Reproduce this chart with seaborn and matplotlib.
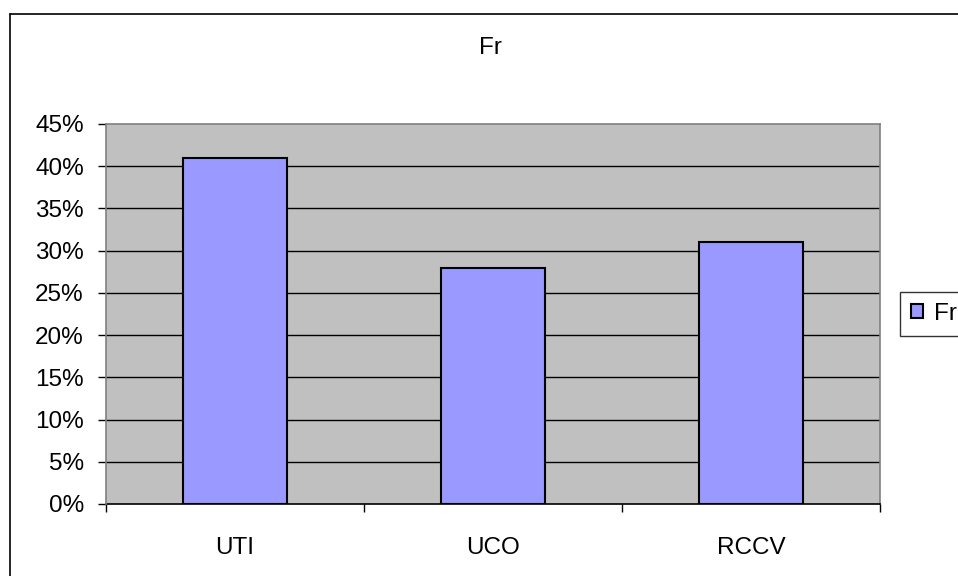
import matplotlib
matplotlib.use("Agg")
import matplotlib.pyplot as plt
import seaborn as sns
import pandas as pd
from matplotlib.lines import Line2D
from matplotlib.ticker import PercentFormatter

categories = ["UTI", "UCO", "RCCV"]
values = [0.41, 0.28, 0.31]
series_name = "Fr"
y_ticks = [0, 0.05, 0.10, 0.15, 0.20, 0.25, 0.30, 0.35, 0.40, 0.45]

sns.set_theme(style="white")
plt.rcParams['font.family'] = ['Liberation Sans', 'DejaVu Sans']
plt.rcParams['text.color'] = 'black'
plt.rcParams['xtick.color'] = 'black'
plt.rcParams['ytick.color'] = 'black'
plt.rcParams['xtick.labelcolor'] = 'black'
plt.rcParams['ytick.labelcolor'] = 'black'

W, H = 958, 576
fig = plt.figure(figsize=(W / 100, H / 100), dpi=100)
fig.patch.set_facecolor("white")

L, R, T, B = 106, 880, 124, 504
ax = fig.add_axes([L / W, 1 - B / H, (R - L) / W, (B - T) / H])
ax.set_facecolor("#C0C0C0")

df = pd.DataFrame({"cat": categories, "val": values})
sns.barplot(data=df, x="cat", y="val", color="#9999FF", edgecolor="black",
            linewidth=1.5, width=0.40, saturation=1, ax=ax, zorder=3)

ax.set_ylim(0, 0.45)
ax.set_xlim(-0.5, len(categories) - 0.5)
ax.set_yticks(y_ticks)
ax.yaxis.set_major_formatter(PercentFormatter(1.0, decimals=0))
for y in y_ticks[1:-1]:
    ax.axhline(y, color="black", linewidth=1, zorder=1)

ax.set_xlabel("")
ax.set_ylabel("")
ax.tick_params(axis="y", which="major", length=6, width=1, color="black",
               direction="out", pad=10, labelsize=17.5, left=True, labelcolor="black")
ax.tick_params(axis="x", which="major", length=0, pad=24, labelsize=17.5, labelcolor="black")
ax.set_xticks([i - 0.5 for i in range(len(categories) + 1)], minor=True)
ax.tick_params(axis="x", which="minor", length=6, width=1, color="black",
               direction="out", bottom=True)

for side in ["left", "right", "top"]:
    ax.spines[side].set_visible(True)
    ax.spines[side].set_color("#808080")
    ax.spines[side].set_linewidth(1.2)
ax.spines["bottom"].set_color("black")
ax.spines["bottom"].set_linewidth(1.2)
ax.spines["left"].set_zorder(4)

fig.text(490 / W, 1 - 48 / H, "Fr", ha="center", va="center", fontsize=17.5, color="black")

# outer chart frame
fig.add_artist(Line2D([10 / W, 10 / W], [0, 1 - 14 / H], transform=fig.transFigure,
                      color="black", linewidth=1.2))
fig.add_artist(Line2D([10 / W, 1.0], [1 - 14 / H, 1 - 14 / H], transform=fig.transFigure,
                      color="black", linewidth=1.2))

handle = ax.patches[0]
leg = fig.legend([handle], [series_name], loc="upper left",
                 bbox_to_anchor=(900 / W, 1 - 292 / H), frameon=True,
                 fancybox=False, fontsize=17.5, handlelength=0.5, handleheight=0.5,
                 handletextpad=0.45, borderpad=0.45, borderaxespad=0)
leg.get_frame().set_edgecolor("black")
leg.get_frame().set_linewidth(1)
for t in leg.get_texts():
    t.set_color("black")

fig.savefig("out.png", dpi=100)
